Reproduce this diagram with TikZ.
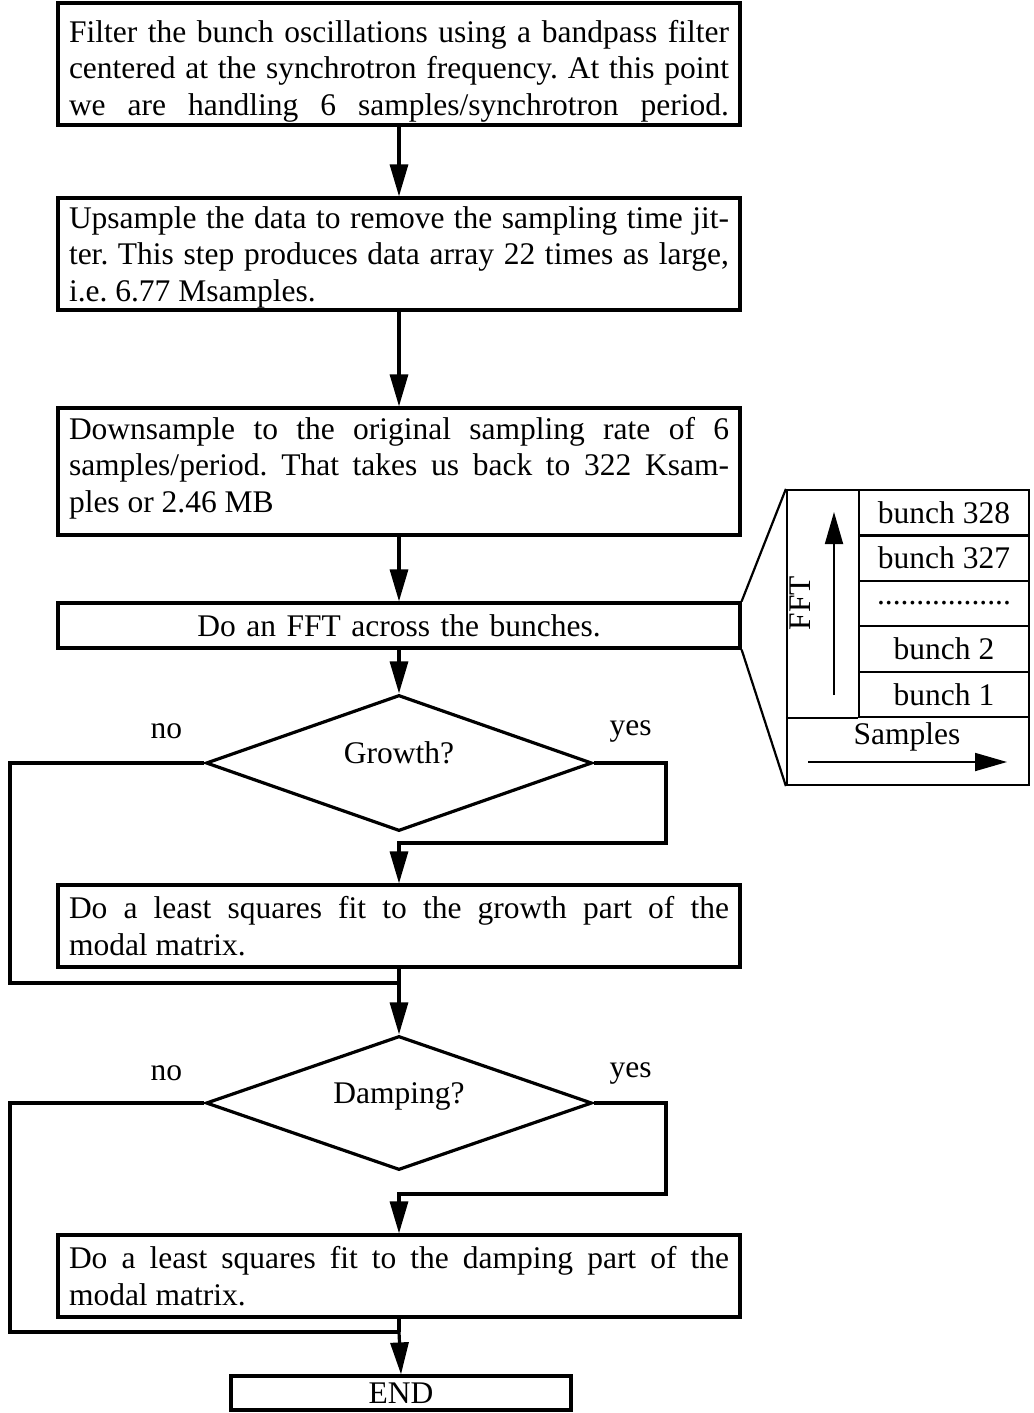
\documentclass[tikz,border=0pt]{standalone}
\usepackage{fontspec}
\setmainfont{Liberation Serif}
\usetikzlibrary{arrows.meta,calc,shapes.geometric}
\newcommand{\dotrow}{.................}
\frenchspacing

\begin{document}
\begin{tikzpicture}[x=1pt, y=-1pt, >={Triangle[length=32pt,width=18pt]},
        font=\fontsize{31.5}{36.5}\selectfont,
        stepbox/.style={draw, line width=3.2pt, text width=660pt,
            inner xsep=11pt, inner ysep=4pt, align=justify},
        decision/.style={draw, diamond, aspect=2.8, line width=3.2pt, inner sep=0pt,
            minimum width=386pt, minimum height=136pt, text depth=20pt},
        flow/.style={line width=3.2pt},
        cell/.style={draw, line width=2.2pt, minimum width=170pt,
            minimum height=45.4pt, inner sep=0pt}]
        \useasboundingbox (0,0) rectangle (1033,1413);

        % -- main chain of steps --
        \node[stepbox, minimum height=122pt, text height=36pt, inner ysep=1pt] (filt) at (399,64)
            {Filter the bunch oscillations using a bandpass filter\linebreak
             centered at the synchrotron frequency. At this point\linebreak
             \makebox[\linewidth][s]{we are handling 6 samples/synchrotron period.}};
        \node[stepbox, minimum height=112pt, text height=28pt, inner ysep=1pt] (upsam) at (399,254)
            {Upsample the data to remove the sampling time jit-\linebreak
             ter. This step produces data array 22 times as large,\linebreak
             i.e. 6.77 Msamples.};
        \node[stepbox, minimum height=127pt, text height=15pt] (downsam) at (399,471.5)
            {Downsample to the original sampling rate of 6\linebreak
             samples/period. That takes us back to 322 Ksam-\linebreak
             ples or 2.46 MB};
        \node[stepbox, align=center, minimum height=45pt] (fft) at (399,625.5)
            {Do an FFT across the bunches.};
        \node[decision] (growth) at (399,763) {Growth?};
        \node[stepbox, minimum height=82pt] (fitgrow) at (399,926)
            {Do a least squares fit to the growth part of the\linebreak
             modal matrix.};
        \node[decision, minimum height=134pt] (damp) at (399,1103) {Damping?};
        \node[stepbox, minimum height=82pt] (fitdamp) at (399,1276)
            {Do a least squares fit to the damping part of the\linebreak
             modal matrix.};
        \node[draw, line width=3.2pt, inner sep=0pt, minimum width=340pt,
            minimum height=34pt] (fin) at (401,1393) {END};

        % -- yes / no labels --
        \node (gno)  at ($(growth.west)+(-38,-32)$) {no};
        \node (gyes) at ($(growth.east)+(37,-32)$)  {yes};
        \node (dno)  at ($(damp.west)+(-38,-30)$)   {no};
        \node (dyes) at ($(damp.east)+(37,-30)$)    {yes};

        % -- routing points --
        \coordinate (nocol)  at (10,0);
        \coordinate (yescol) at (666,0);
        \coordinate (gturn)  at (399,843);
        \coordinate (gmerge) at (399,983);
        \coordinate (dturn)  at (399,1194);
        \coordinate (dmerge) at (399,1332);

        % -- straight arrows --
        \draw[->,flow] (filt) -- (upsam);
        \draw[->,flow] (upsam) -- (downsam);
        \draw[->,flow] (downsam) -- (fft);
        \draw[->,flow] (fft) -- (growth);

        % -- growth branch --
        \draw[->,flow] (growth.east) -| (yescol |- gturn) -- (gturn) -- (fitgrow.north);
        \draw[flow] (growth.west) -| (nocol |- gmerge) -- (gmerge);
        \draw[flow] (fitgrow.south) -- (gmerge);
        \draw[->,flow] (gmerge) -- (damp.north);

        % -- damping branch --
        \draw[->,flow] (damp.east) -| (yescol |- dturn) -- (dturn) -- (fitdamp.north);
        \draw[flow] (damp.west) -| (nocol |- dmerge) -- (dmerge);
        \draw[flow] (fitdamp.south) -- (dmerge);
        \draw[->,flow] (dmerge) -- (fin.north);

        % -- FFT data layout on the right --
        \node[draw, line width=2.2pt, inner sep=0pt, minimum width=242pt,
            minimum height=295pt] (fftmap) at (908,637.5) {};
        \draw[line width=2.2pt] (fft.north east) -- (fftmap.north west);
        \draw[line width=2.2pt] (fft.south east) -- (fftmap.south west);

        \foreach \nm/\lbl [count=\i] in {b328/bunch 328, b327/bunch 327,
                bdots/\dotrow, b2/bunch 2, b1/bunch 1}
            \node[cell] (\nm) at (944, {490+22.7+(\i-1)*45.4}) {\lbl};
        \draw[line width=2.2pt] (fftmap.west |- b1.south) -- (b1.south west);

        \coordinate (fftlo) at (834,695);
        \coordinate (ffthi) at (834,512);
        \draw[->,line width=1.8pt] (fftlo) -- (ffthi);
        \node[rotate=90] (fftlbl) at (800,603) {FFT};

        \node (samp) at (907,737) {Samples};
        \coordinate (smplo) at (808,762);
        \coordinate (smphi) at (1007,762);
        \draw[->,line width=1.8pt] (smplo) -- (smphi);

\end{tikzpicture}
\end{document}
